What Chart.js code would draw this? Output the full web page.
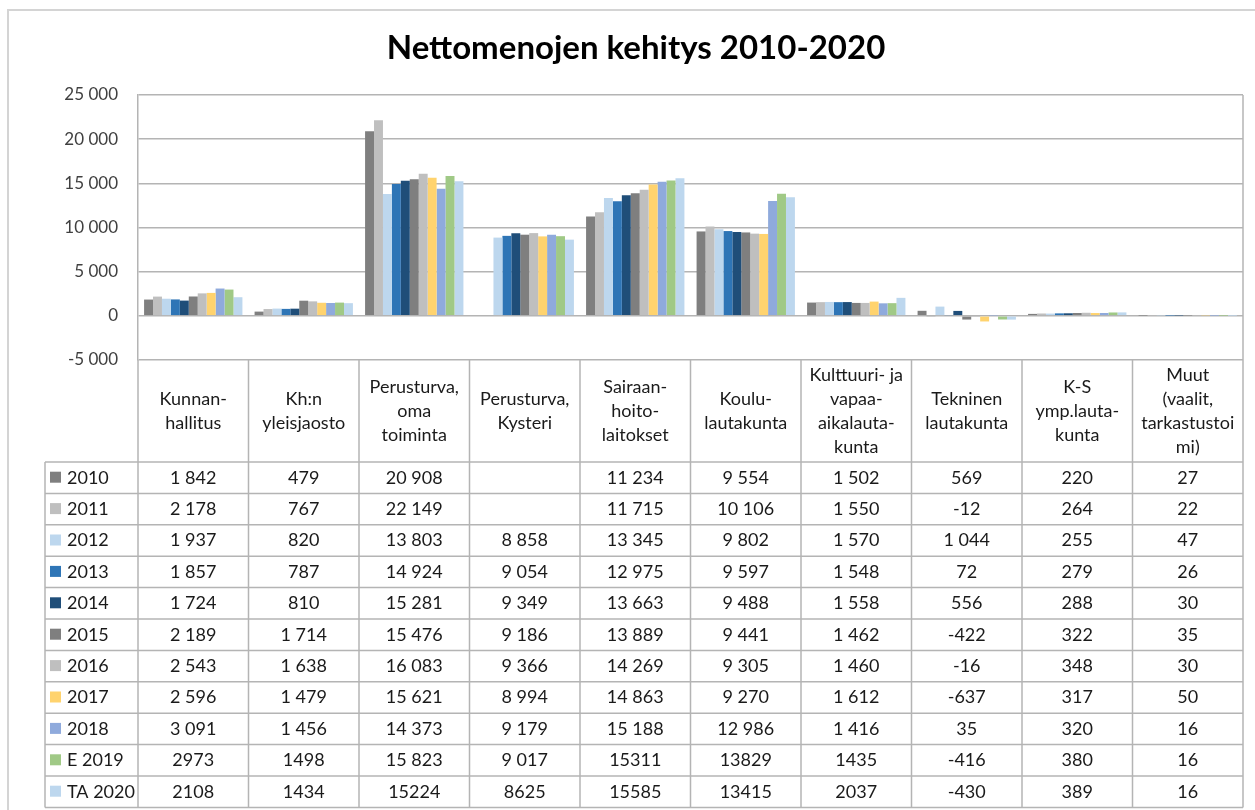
<!DOCTYPE html>
<html>
<head>
<meta charset="utf-8">
<script src="https://cdn.jsdelivr.net/npm/chart.js@4"></script>
<style>
  html, body { margin: 0; padding: 0; background: #fff; }
  #wrap { width: 1255px; height: 810px; position: relative; }
</style>
</head>
<body>
<div id="wrap"><canvas id="chart" width="1255" height="810"></canvas></div>
<script>
const title = "Nettomenojen kehitys 2010-2020";

const categories = [
  ["Kunnan-", "hallitus"],
  ["Kh:n", "yleisjaosto"],
  ["Perusturva,", "oma", "toiminta"],
  ["Perusturva,", "Kysteri"],
  ["Sairaan-", "hoito-", "laitokset"],
  ["Koulu-", "lautakunta"],
  ["Kulttuuri- ja", "vapaa-", "aikalauta-", "kunta"],
  ["Tekninen", "lautakunta"],
  ["K-S", "ymp.lauta-", "kunta"],
  ["Muut", "(vaalit,", "tarkastustoi", "mi)"],
];

const seriesNames = ["2010", "2011", "2012", "2013", "2014", "2015", "2016", "2017", "2018", "E 2019", "TA 2020"];
const seriesColors = ["#7f7f7f", "#bfbfbf", "#bdd7ee", "#2e75b6", "#1f4e79", "#7f7f7f", "#bfbfbf", "#ffd36e", "#8faadc", "#a0c986", "#bdd7ee"];

const v2010 = [1842, 479, 20908, null, 11234, 9554, 1502, 569, 220, 27];
const v2011 = [2178, 767, 22149, null, 11715, 10106, 1550, -12, 264, 22];
const v2012 = [1937, 820, 13803, 8858, 13345, 9802, 1570, 1044, 255, 47];
const v2013 = [1857, 787, 14924, 9054, 12975, 9597, 1548, 72, 279, 26];
const v2014 = [1724, 810, 15281, 9349, 13663, 9488, 1558, 556, 288, 30];
const v2015 = [2189, 1714, 15476, 9186, 13889, 9441, 1462, -422, 322, 35];
const v2016 = [2543, 1638, 16083, 9366, 14269, 9305, 1460, -16, 348, 30];
const v2017 = [2596, 1479, 15621, 8994, 14863, 9270, 1612, -637, 317, 50];
const v2018 = [3091, 1456, 14373, 9179, 15188, 12986, 1416, 35, 320, 16];
const v2019 = [2973, 1498, 15823, 9017, 15311, 13829, 1435, -416, 380, 16];
const v2020 = [2108, 1434, 15224, 8625, 15585, 13415, 2037, -430, 389, 16];
const seriesValues = [v2010, v2011, v2012, v2013, v2014, v2015, v2016, v2017, v2018, v2019, v2020];

// the source table writes some cells without the thousands space
const ungroupedCells = [[], [], [], [], [], [], [], [], [], [0, 1, 4, 5, 6], [0, 1, 2, 3, 4, 5, 6]];

const yTicks = [-5000, 0, 5000, 10000, 15000, 20000, 25000];

const FONT = "Lato, 'Open Sans', sans-serif";

function fmt(v, grouped) {
  if (v === null) return "";
  const s = String(Math.abs(v));
  const body = grouped ? s.replace(/\B(?=(\d{3})+(?!\d))/g, " ") : s;
  return (v < 0 ? "-" : "") + body;
}

const tablePlugin = {
  id: "dataTable",
  beforeDraw(chart) {
    const ctx = chart.ctx;
    ctx.save();
    ctx.fillStyle = "#fff";
    ctx.fillRect(0, 0, chart.width, chart.height);
    ctx.strokeStyle = "#d4d4d4";
    ctx.lineWidth = 2;
    ctx.beginPath();
    ctx.moveTo(8, chart.height);
    ctx.lineTo(8, 10);
    ctx.lineTo(chart.width, 10);
    ctx.stroke();
    ctx.restore();
  },
  afterDraw(chart) {
    const { ctx, chartArea: a, scales: { x } } = chart;
    const n = categories.length;
    const colW = (a.right - a.left) / n;
    const headBottom = a.bottom + 102;
    const rowH = 31.4;
    const legendLeft = 45;
    const tableBottom = headBottom + rowH * seriesNames.length;

    ctx.save();
    // title
    ctx.fillStyle = "#000";
    ctx.font = "bold 33px " + FONT;
    ctx.textAlign = "center";
    ctx.textBaseline = "middle";
    ctx.fillText(title, 636, 48);

    ctx.strokeStyle = "#b4b4b4";
    ctx.lineWidth = 1.5;
    const line = (x1, y1, x2, y2) => {
      ctx.beginPath();
      ctx.moveTo(x1, y1);
      ctx.lineTo(x2, y2);
      ctx.stroke();
    };
    line(a.right, a.top, a.right, a.bottom);
    for (let i = 0; i <= n; i++) {
      const px = x.getPixelForValue(i) - colW / 2;
      line(px, a.bottom, px, tableBottom);
    }
    line(legendLeft, headBottom, legendLeft, tableBottom);
    for (let r = 0; r <= seriesNames.length; r++) {
      const py = headBottom + r * rowH;
      line(legendLeft, py, a.right, py);
    }

    ctx.fillStyle = "#1a1a1a";
    ctx.font = "18px " + FONT;
    ctx.textBaseline = "middle";
    ctx.textAlign = "center";
    const headMid = (a.bottom + headBottom) / 2;
    const lh = 24;
    categories.forEach((lines, i) => {
      const cx = x.getPixelForValue(i);
      const y0 = headMid - (lines.length - 1) * lh / 2;
      lines.forEach((t, k) => ctx.fillText(t, cx, y0 + k * lh));
    });

    seriesNames.forEach((name, r) => {
      const cy = headBottom + r * rowH + rowH / 2;
      ctx.fillStyle = seriesColors[r];
      ctx.fillRect(50, cy - 6, 11, 11);
      ctx.fillStyle = "#1a1a1a";
      ctx.textAlign = "left";
      ctx.fillText(name, 67, cy);
      ctx.textAlign = "center";
      seriesValues[r].forEach((v, i) => {
        const grouped = !ungroupedCells[r].includes(i);
        ctx.fillText(fmt(v, grouped), x.getPixelForValue(i), cy);
      });
    });
    ctx.restore();
  },
};

new Chart(document.getElementById("chart"), {
  type: "bar",
  data: {
    labels: categories.map((c) => c.join(" ")),
    datasets: seriesNames.map((name, i) => ({
      label: name,
      data: seriesValues[i],
      backgroundColor: seriesColors[i],
      borderWidth: 0,
      categoryPercentage: 0.89,
      barPercentage: 1.0,
    })),
  },
  options: {
    responsive: false,
    animation: false,
    layout: { padding: { top: 95, left: 8, right: 12, bottom: 450 } },
    plugins: {
      legend: { display: false },
      title: { display: false },
      tooltip: { enabled: false },
    },
    scales: {
      x: { display: false },
      y: {
        min: yTicks[0],
        max: yTicks[yTicks.length - 1],
        afterFit: (scale) => { scale.width = 130; },
        afterBuildTicks: (scale) => { scale.ticks = yTicks.map((v) => ({ value: v })); },
        ticks: {
          padding: 20,
          color: "#404040",
          font: { family: FONT, size: 17 },
          callback: (v) => fmt(v, true),
        },
        grid: { color: "#b4b4b4", lineWidth: 1.5, drawTicks: false },
        border: { display: true, color: "#b4b4b4", width: 1.5 },
      },
    },
  },
  plugins: [tablePlugin],
});
</script>
</body>
</html>
